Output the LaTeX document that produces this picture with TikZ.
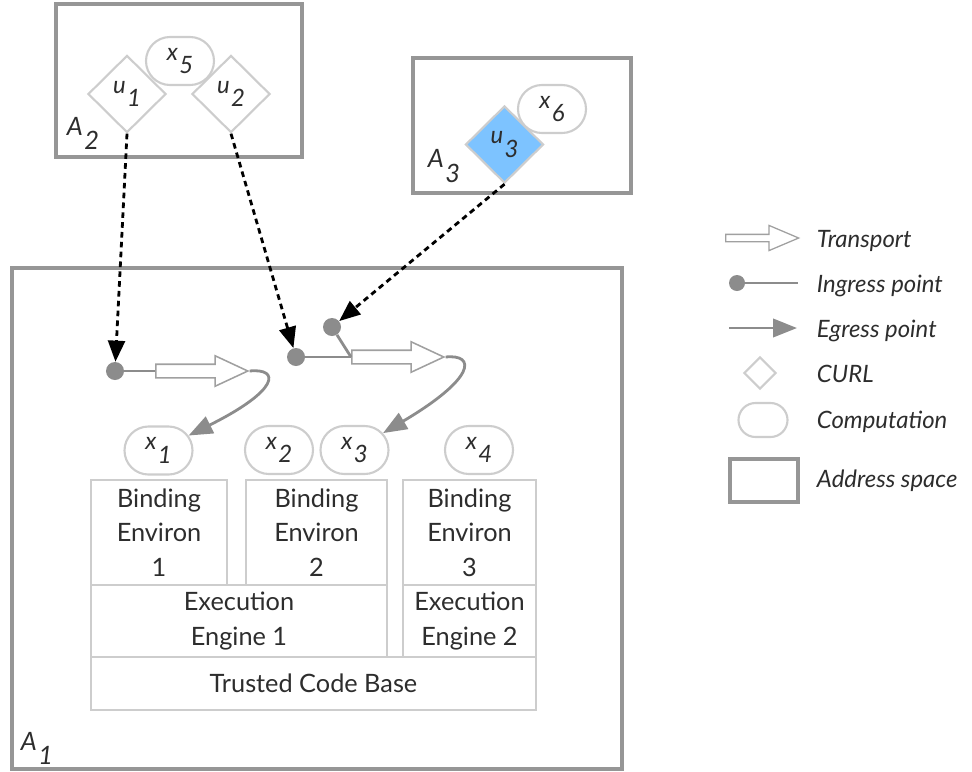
\documentclass[tikz,border=0pt]{standalone}
\usepackage{fontspec}
\setmainfont{Lato}
\definecolor{boxGray}{RGB}{205,205,205}
\definecolor{spaceGray}{RGB}{150,150,150}
\definecolor{portGray}{RGB}{140,140,140}
\definecolor{transGray}{RGB}{160,160,160}
\definecolor{curlBlue}{RGB}{125,195,255}
\definecolor{inkGray}{RGB}{45,45,45}
\usepackage{tikz}
\usetikzlibrary{shapes.geometric,shapes.misc,shapes.arrows,arrows.meta,positioning}
\newcommand{\idx}[2]{\textit{#1}\kern1pt\raisebox{-1.1ex}{\textit{#2}}}

\begin{document}
\begin{tikzpicture}[x=0.025cm, y=-0.025cm,
    addrspace/.style={draw=spaceGray, line width=2.2pt},
    spacelabel/.style={font=\fontsize{18}{20}\selectfont, text=inkGray},
    layerbox/.style={draw=boxGray, line width=1.5pt, align=center, inner sep=0pt,
      font=\fontsize{18}{24.5}\selectfont, text=inkGray},
    comp/.style={rounded rectangle, draw=boxGray, line width=1.5pt, fill=white,
      minimum width=1.7cm, minimum height=1.2cm, inner sep=0pt,
      font=\fontsize{17}{20}\selectfont, text=inkGray},
    curl/.style={diamond, draw=boxGray, line width=1.5pt, fill=white,
      minimum width=1.95cm, minimum height=1.93cm, inner sep=0pt,
      font=\fontsize{17}{20}\selectfont, text=inkGray},
    port/.style={circle, fill=portGray, minimum size=0.45cm, inner sep=0pt},
    portline/.style={draw=portGray, line width=2pt},
    egress/.style={portline, -{Triangle[length=17pt,width=13pt]}},
    invoke/.style={draw=black, line width=2pt, dash pattern=on 4pt off 3pt,
      -{Triangle[length=15pt,width=12pt]}},
    transport/.style={single arrow, draw=transGray, line width=1.1pt, fill=white,
      minimum height=2.3cm, inner xsep=0pt, inner ysep=0.15cm, single arrow head extend=0.2125cm,
      single arrow tip angle=50, anchor=tail},
    legendtext/.style={anchor=base west, font=\fontsize{17}{20}\selectfont\itshape, text=inkGray}]
  \useasboundingbox (0,0) rectangle (972,771);

  % address spaces
  \draw[addrspace] (56,4) rectangle (302,157);
  \draw[addrspace] (413,58) rectangle (631,193);
  \draw[addrspace] (12,268) rectangle (622,769);
  \node[spacelabel] (a2) at (83,133) {\idx{A}{2}};
  \node[spacelabel] (a3) at (444,166) {\idx{A}{3}};
  \node[spacelabel] (a1) at (37,748) {\idx{A}{1}};

  % A2: two CURLs and a computation
  \node[comp] (x5) at (180,61) {\idx{x}{5}};
  \node[curl] (u1) at (127,94) {\idx{u}{1}};
  \node[curl] (u2) at (231,94) {\idx{u}{2}};

  % A3
  \node[comp] (x6) at (552,109) {\idx{x}{6}};
  \node[curl, fill=curlBlue] (u3) at (504.5,144.5) {\idx{u}{3}};

  % A1: layers
  \node[layerbox, minimum width=3.4cm, minimum height=2.625cm] (be1) at (159,532.5) {Binding\\Environ\\1};
  \node[layerbox, minimum width=3.525cm, minimum height=2.625cm] (be2) at (316.5,532.5) {Binding\\Environ\\2};
  \node[layerbox, minimum width=3.325cm, minimum height=2.625cm] (be3) at (469.5,532.5) {Binding\\Environ\\3};
  \node[layerbox, minimum width=7.4cm, minimum height=1.8cm] (ee1) at (239,621) {Execution\\Engine 1};
  \node[layerbox, minimum width=3.325cm, minimum height=1.8cm] (ee2) at (469.5,621) {Execution\\Engine 2};
  \node[layerbox, minimum width=11.125cm, minimum height=1.325cm] (tcb) at (313.5,683.5) {Trusted Code Base};

  % A1: computations
  \node[comp] (x1) at (158.5,450.5) {\idx{x}{1}};
  \node[comp] (x2) at (279,450) {\idx{x}{2}};
  \node[comp] (x3) at (354.5,450) {\idx{x}{3}};
  \node[comp] (x4) at (479,450) {\idx{x}{4}};

  % A1: ingress points and transports
  \node[port] (p1) at (115,371) {};
  \node[port] (p2) at (296,357) {};
  \node[port] (p3) at (332,327) {};
  \node[transport] (t1) at (155,371) {};
  \node[transport] (t2) at (351,357) {};
  \draw[portline] (p1) -- (t1.tail);
  \draw[portline] (p2) -- (t2.tail);
  \draw[portline] (p3) -- (t2.tail);
  \draw[egress] (t1.tip) .. controls (280,368) and (280,390) .. (x1);
  \draw[egress] (t2.tip) .. controls (476,354) and (476,378) .. (x3);

  % invocations through the CURLs
  \draw[invoke] (u1.south) -- (p1);
  \draw[invoke] (u2.south) -- (p2);
  \draw[invoke] (u3.south) -- (p3);

  % legend
  \node[transport, minimum height=1.825cm, inner ysep=0.075cm, single arrow head extend=0.225cm,
    single arrow tip angle=46, line width=0.9pt] (lgtrans) at (725,238) {};
  \node[legendtext] (lgtranstext) at (812,247) {Transport};
  \node[port, minimum size=0.4cm] (lgport) at (737,283) {};
  \coordinate (lgportend) at (798,283);
  \draw[portline] (lgport) -- (lgportend);
  \node[legendtext] (lgporttext) at (812,292) {Ingress point};
  \coordinate (lgegstart) at (729,328);
  \coordinate (lgegend) at (797,328);
  \draw[egress] (lgegstart) -- (lgegend);
  \node[legendtext] (lgegtext) at (812,337) {Egress point};
  \node[curl, minimum width=0.8cm, minimum height=0.8cm] (lgcurl) at (760,373) {};
  \node[legendtext] (lgcurltext) at (812,382) {CURL};
  \node[comp, minimum width=1.225cm, minimum height=0.85cm] (lgcomp) at (763,420) {};
  \node[legendtext] (lgcomptext) at (812,428) {Computation};
  \node[addrspace, minimum width=1.7cm, minimum height=1.075cm] (lgspace) at (764,480.5) {};
  \node[legendtext] (lgspacetext) at (812,487) {Address space};
\end{tikzpicture}
\end{document}
